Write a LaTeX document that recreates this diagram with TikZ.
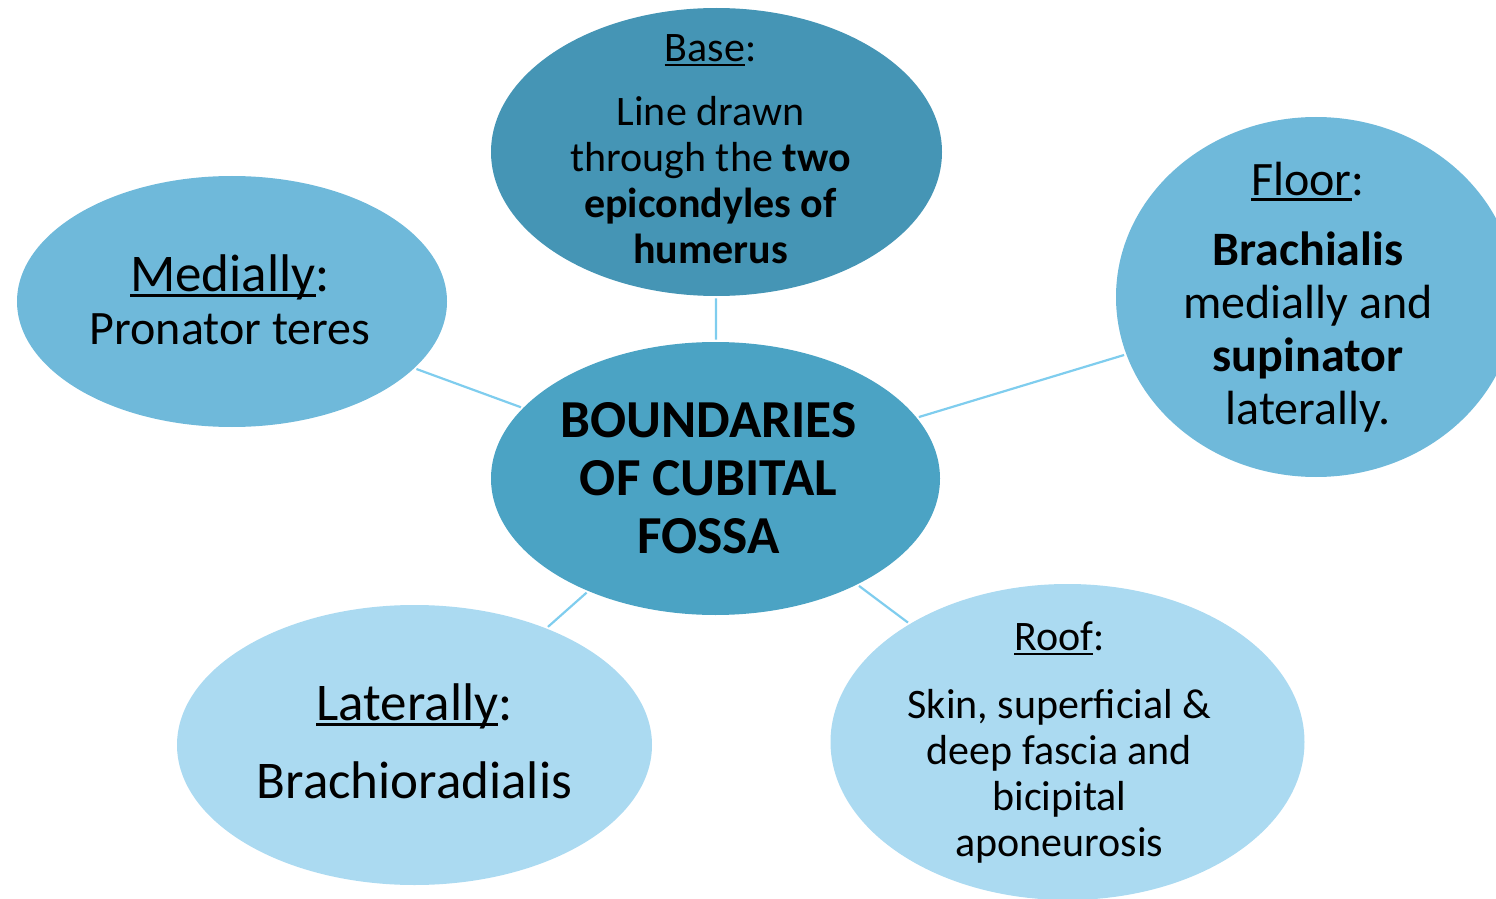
\documentclass[tikz,border=0pt]{standalone}
\usepackage{fontspec}
\setmainfont{Carlito}
\usetikzlibrary{shapes.geometric}

\definecolor{basecol}{HTML}{4595B5}
\definecolor{hubcol}{HTML}{4BA3C4}
\definecolor{midcol}{HTML}{6FB9DA}
\definecolor{palecol}{HTML}{ABDAF1}
\definecolor{linkcol}{HTML}{7FCDEE}

\newcommand{\fs}[2]{\fontsize{#1}{#2}\selectfont}
% heading underline that cuts through the descenders
\newcommand{\hdr}[1]{\setbox0\hbox{#1}\rlap{\rule[-0.11em]{\wd0}{0.05em}}\box0}

\tikzset{
  bubble/.style={ellipse, inner sep=0pt},
  words/.style={align=center, inner sep=0pt, text=black},
  link/.style={draw=linkcol, line width=1.1pt, shorten <=1pt, shorten >=1pt},
}

\begin{document}
\begin{tikzpicture}[x=0.5pt, y=-0.5pt]
    % slide frame
    \useasboundingbox (0,0) rectangle (1496,899);
    \clip (0,0) rectangle (1496,899);

    % bubbles
    \node[bubble, fill=basecol, minimum width=225.5pt, minimum height=144pt] (base) at (716.5,152) {};
    \node[bubble, fill=hubcol, minimum width=224.5pt, minimum height=136.5pt] (hub) at (715.5,478.5) {};
    \node[bubble, fill=midcol, minimum width=215pt, minimum height=125.5pt] (med) at (232,301.5) {};
    \node[bubble, fill=midcol, minimum width=200pt, minimum height=180pt] (floor) at (1316,297) {};
    \node[bubble, fill=palecol, minimum width=237.5pt, minimum height=140pt] (lat) at (414.5,745) {};
    \node[bubble, fill=palecol, minimum width=237pt, minimum height=158pt] (roof) at (1067.5,742) {};

    % connectors
    \draw[link] (hub) -- (base);
    \draw[link] (hub) -- (med);
    \draw[link] (hub) -- (floor);
    \draw[link] (hub) -- (lat);
    \draw[link] (hub) -- (roof);

    % texts
    \node[words, font=\fs{21}{23}, xshift=-3pt, yshift=1.5pt] (baset) at (base)
        {\hdr{Base}:\\[9pt] Line drawn\\ through the \textbf{two}\\ \textbf{epicondyles of}\\ \textbf{humerus}};
    \node[words, font=\bfseries\fs{26.7}{29}, xshift=-3.5pt] (hubt) at (hub)
        {BOUNDARIES\\ OF CUBITAL\\ FOSSA};
    \node[words, font=\fs{24}{26.5}, xshift=-1pt, yshift=1pt] (medt) at (med)
        {{\fs{26.5}{26.5}\hdr{Medially}:}\\ Pronator teres};
    \node[words, font=\fs{24}{26.5}, xshift=-4pt] (floort) at (floor)
        {\hdr{Floor}:\\[8.5pt] \textbf{Brachialis}\\ medially and\\ \textbf{supinator}\\ laterally.};
    \node[words, font=\fs{26.5}{30}, yshift=2pt] (latt) at (lat)
        {{\fs{26.5}{30}\hdr{Laterally}:}\\[9pt] Brachioradialis};
    \node[words, font=\fs{21}{23}, xshift=-4pt] (rooft) at (roof)
        {\hdr{Roof}:\\[11pt] Skin, superficial \&\\ deep fascia and\\ bicipital\\ aponeurosis};
\end{tikzpicture}
\end{document}
